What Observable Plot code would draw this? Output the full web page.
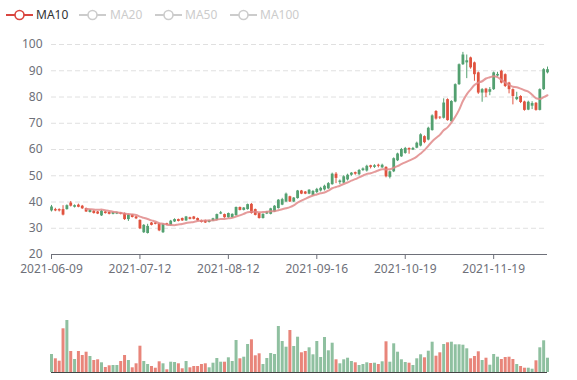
<!DOCTYPE html>
<html>
<head>
<meta charset="utf-8">
<script src="https://cdn.jsdelivr.net/npm/d3@7"></script>
<script src="https://cdn.jsdelivr.net/npm/@observablehq/plot@0.6"></script>
<style>
  html, body { margin: 0; padding: 0; background: #fff; }
  #root { position: relative; width: 577px; height: 380px; font-family: "Noto Sans", sans-serif; overflow: hidden; }
  #root > svg, #root > figure { position: absolute; left: 0; margin: 0; }
  .lg { position: absolute; top: 0; font-size: 12px; line-height: 16px; }
</style>
</head>
<body>
<div id="root"></div>
<script>
// ---- data ----
const dates = [
  "2021-06-09","2021-06-10","2021-06-11","2021-06-14","2021-06-15","2021-06-16","2021-06-17","2021-06-18","2021-06-21","2021-06-22",
  "2021-06-23","2021-06-24","2021-06-25","2021-06-28","2021-06-29","2021-06-30","2021-07-01","2021-07-02","2021-07-05","2021-07-06",
  "2021-07-07","2021-07-08","2021-07-09","2021-07-12","2021-07-13","2021-07-14","2021-07-15","2021-07-16","2021-07-19","2021-07-20",
  "2021-07-21","2021-07-22","2021-07-23","2021-07-26","2021-07-27","2021-07-28","2021-07-29","2021-07-30","2021-08-02","2021-08-03",
  "2021-08-04","2021-08-05","2021-08-06","2021-08-09","2021-08-10","2021-08-11","2021-08-12","2021-08-13","2021-08-16","2021-08-17",
  "2021-08-18","2021-08-19","2021-08-20","2021-08-23","2021-08-24","2021-08-25","2021-08-26","2021-08-27","2021-08-30","2021-08-31",
  "2021-09-01","2021-09-02","2021-09-03","2021-09-08","2021-09-09","2021-09-10","2021-09-13","2021-09-14","2021-09-15","2021-09-16",
  "2021-09-17","2021-09-20","2021-09-21","2021-09-22","2021-09-23","2021-09-24","2021-09-27","2021-09-28","2021-09-29","2021-09-30",
  "2021-10-01","2021-10-04","2021-10-05","2021-10-06","2021-10-07","2021-10-08","2021-10-11","2021-10-12","2021-10-13","2021-10-14",
  "2021-10-15","2021-10-18","2021-10-19","2021-10-20","2021-10-21","2021-10-22","2021-10-25","2021-10-26","2021-10-27","2021-10-28",
  "2021-10-29","2021-11-01","2021-11-02","2021-11-03","2021-11-04","2021-11-05","2021-11-08","2021-11-09","2021-11-10","2021-11-11",
  "2021-11-12","2021-11-15","2021-11-16","2021-11-17","2021-11-18","2021-11-19","2021-11-22","2021-11-23","2021-11-24","2021-11-25",
  "2021-11-26","2021-11-29","2021-11-30","2021-12-01","2021-12-02","2021-12-03","2021-12-06","2021-12-07","2021-12-08","2021-12-09"
];
const opens = [
  36.6,37.1,37.1,37.1,37.1,39.6,38.0,38.8,38.4,37.5, 36.0,36.5,36.2,34.7,36.2,36.0,35.3,35.4,35.8,35.6,
  33.3,35.1,34.3,33.0,28.3,28.0,32.0,32.0,31.7,28.3, 31.7,31.0,32.4,33.3,33.7,32.8,34.0,34.3,33.7,32.9,
  32.9,32.2,32.7,33.0,35.4,35.2,34.0,34.0,34.8,37.9, 36.8,37.1,39.1,37.1,35.6,33.7,35.4,35.3,36.2,37.5,
  38.8,40.0,42.0,40.0,41.3,44.2,43.8,43.0,42.5,43.6, 44.2,44.6,45.0,46.6,50.6,47.4,47.2,48.4,50.2,51.2,
  50.4,52.0,51.8,53.8,53.2,54.0,53.0,53.2,49.4,51.5, 55.7,57.2,58.5,60.4,59.8,60.5,61.3,64.9,63.6,67.2,
  74.5,72.3,71.9,79.0,70.6,78.1,84.7,92.3,93.0,94.9, 93.0,89.2,81.5,83.0,81.8,82.8,88.0,89.8,88.5,85.3,
  82.8,79.0,80.2,78.1,75.0,76.5,77.6,74.9,82.8,89.2
];
const closes = [
  38.1,36.6,36.6,35.0,38.6,38.4,38.6,38.0,37.4,36.2, 36.9,35.6,35.4,36.5,35.6,35.3,36.0,36.0,35.3,33.3,
  35.1,34.1,33.6,29.8,31.1,30.7,31.1,31.5,29.0,31.5, 31.2,32.7,33.3,32.6,32.8,34.3,33.4,33.4,32.8,32.2,
  32.0,32.9,33.6,35.2,35.9,34.0,35.6,35.3,37.9,36.8, 37.7,39.0,35.6,34.9,33.7,35.3,36.2,37.4,38.4,40.7,
  40.9,43.0,40.0,41.5,44.2,43.0,43.0,44.5,44.0,44.8, 45.2,46.0,47.0,50.6,49.0,48.0,49.6,50.2,51.0,50.6,
  52.0,52.6,53.6,53.2,53.8,53.6,54.0,49.6,51.5,56.5, 58.3,60.0,60.4,59.8,60.4,62.4,65.6,62.6,68.1,72.8,
  71.6,72.0,77.7,71.0,78.3,84.7,92.3,96.0,93.8,91.1, 88.5,81.5,82.8,81.5,82.8,89.2,88.6,85.3,84.0,82.8,
  80.2,79.8,77.9,74.9,78.0,77.5,74.9,82.8,90.4,90.4
];
const highs = [
  38.7,37.6,37.4,38.6,38.9,40.2,38.9,39.2,38.7,37.7, 37.1,36.7,36.4,36.8,36.4,36.2,36.2,36.2,36.0,35.8,
  35.3,35.3,34.5,33.2,31.4,31.5,32.2,32.2,31.9,31.7, 31.9,33.0,33.6,33.5,33.9,34.5,34.2,34.5,33.9,33.1,
  33.1,33.1,33.8,35.4,36.4,35.4,35.8,35.5,38.1,38.1, 37.9,39.2,39.4,37.3,35.8,35.5,36.4,37.6,38.6,40.9,
  41.4,43.4,42.2,41.7,44.4,44.4,44.0,44.7,44.4,45.2, 45.6,46.4,47.4,51.0,51.2,48.4,50.0,50.6,51.2,51.4,
  52.4,53.0,54.0,54.0,54.2,54.4,54.4,53.4,51.8,56.8, 58.6,60.4,60.8,60.6,60.8,62.8,66.0,65.2,68.5,73.2,
  74.8,72.5,79.3,79.3,78.6,85.0,92.6,97.0,96.0,95.2, 93.3,89.5,83.2,83.3,83.6,89.5,89.4,90.2,88.8,85.6,
  83.1,81.8,80.5,78.4,78.4,78.2,77.9,83.1,90.8,91.4
];
const lows = [
  36.2,36.3,36.2,34.7,36.9,38.1,37.7,37.8,37.2,36.0, 35.8,35.4,35.2,34.5,35.4,35.1,35.1,35.2,35.1,33.0,
  32.6,33.9,33.3,29.5,28.0,27.8,30.9,31.3,28.7,28.0, 31.0,30.8,32.2,32.4,32.6,32.6,33.2,33.2,32.6,32.0,
  31.8,32.0,32.5,32.8,35.2,33.8,33.8,33.8,34.6,36.6, 36.6,36.9,35.4,34.7,33.5,33.5,35.2,35.1,36.0,37.3,
  38.6,39.8,39.8,39.8,41.1,42.8,42.8,42.8,42.2,43.2, 43.8,44.2,44.8,46.4,47.0,46.6,47.0,48.0,49.8,50.2,
  50.0,51.6,51.4,52.6,52.8,53.0,52.8,49.2,48.8,51.2, 55.4,57.0,58.2,58.2,59.6,60.3,61.0,62.2,63.3,67.0,
  71.2,71.4,71.6,70.8,70.4,77.8,84.4,92.0,87.0,90.6, 86.0,81.0,78.0,79.8,80.5,82.5,87.6,85.0,83.6,81.2,
  77.0,78.6,77.5,74.6,74.8,75.2,74.6,74.7,82.5,88.8
];
const volumes = [
  18,13.7,11.3,43.7,52,21,13,21,17,20.3, 16,12,12.7,9.7,5,6.7,7,7,11,17,
  12,4.7,8.7,26.3,11,8,6,4.3,10.7,8.7, 2.7,10.3,10,8.7,3.7,11,4.7,6,6,8,
  8.7,4.7,9.3,14,10.3,10.3,14.7,11,32,13.7, 15.3,28,32.7,16.7,18.7,8,14,19,18,46,
  31,25.3,42,26,35.3,19.7,21,24.7,17.7,31, 15,35,21.7,29.3,12.7,8.7,12.7,14.3,11,9.7,
  7,8,9.7,9,9.3,8,10.7,30.7,10.3,28.7, 20.3,12.7,10,9.3,7,13.7,17.7,14.7,21.3,30.3,
  16.3,19.7,28,29.7,30.3,27.7,27.7,27.3,23.7,13.7, 16,20.7,12,14.3,7.3,18,15.3,13,15,15.3,
  13,8,6,4.3,4.3,3.3,11.7,24.7,31.7,14.3
];
const xTickLabels = ["2021-06-09","2021-07-12","2021-08-12","2021-09-16","2021-10-19","2021-11-19"];
const yTicks = [20,30,40,50,60,70,80,90,100];
const legendNames = ["MA10","MA20","MA50","MA100"];

// ---- table ----
const ma10 = closes.map((c, i) => i < 9 ? NaN : d3.mean(closes.slice(i - 9, i + 1)));
const rows = dates.map((d, i) => ({
  date: d, open: opens[i], close: closes[i], high: highs[i], low: lows[i],
  volume: volumes[i], ma10: ma10[i], up: closes[i] >= opens[i]
}));

const UP = "#53a070", DOWN = "#e0533f";
const UPV = "#8fc0a0", DOWNV = "#e8857a";
const font = {fontFamily: "'Noto Sans', sans-serif", fontSize: "12px", background: "transparent", overflow: "visible"};
const xScale = {type: "point", domain: dates, padding: 0, align: 0.5};

const price = Plot.plot({
  width: 577, height: 280,
  marginLeft: 51, marginRight: 30, marginTop: 44, marginBottom: 26,
  style: font,
  x: {...xScale, axis: null, label: null},
  y: {domain: [20, 100], axis: null, label: null},
  marks: [
    Plot.gridY(yTicks.filter(t => t > 20), {stroke: "#e0e0e0", strokeOpacity: 1, strokeDasharray: "5,3"}),
    Plot.axisY(yTicks, {tickSize: 0, tickPadding: 9, color: "#6e7079", fontSize: 12, label: null}),
    Plot.ruleX(rows, {x: "date", y1: "low", y2: "high", stroke: d => d.up ? UP : DOWN, strokeWidth: 1}),
    Plot.ruleX(rows, {x: "date", y1: "open", y2: "close", stroke: d => d.up ? UP : DOWN, strokeWidth: 2.8}),
    Plot.lineY(rows, {x: "date", y: "ma10", stroke: "#e08a8a", strokeOpacity: 0.85, strokeWidth: 2, curve: "monotone-x"}),
    Plot.ruleY([20], {stroke: "#6e7079"}),
    Plot.axisX(xTickLabels, {tickSize: 5, tickPadding: 5, color: "#6e7079", fontSize: 12, label: null})
  ]
});
price.style.top = "0px";

const vol = Plot.plot({
  width: 577, height: 90,
  marginLeft: 51, marginRight: 30, marginTop: 20, marginBottom: 8,
  style: font,
  x: {...xScale, axis: null, label: null},
  y: {domain: [0, 62], axis: null, label: null},
  marks: [
    Plot.ruleX(rows, {x: "date", y1: 0, y2: "volume", stroke: d => d.up ? UPV : DOWNV, strokeWidth: 3}),
    Plot.ruleY([0], {stroke: "#444", strokeWidth: 1.2})
  ]
});
vol.style.top = "290px";

const root = document.getElementById("root");
root.appendChild(price);
root.appendChild(vol);

// legend
const legendPos = [[6, 36], [79, 110], [155, 185], [230, 260]];
legendNames.forEach((name, i) => {
  const active = i === 0;
  const col = active ? "#d9453f" : "#cccccc";
  const [ix, tx] = legendPos[i];
  const icon = document.createElementNS("http://www.w3.org/2000/svg", "svg");
  icon.setAttribute("width", 28); icon.setAttribute("height", 14);
  icon.style.position = "absolute"; icon.style.left = ix + "px"; icon.style.top = "8px";
  icon.innerHTML = `<line x1="0" y1="7" x2="27" y2="7" stroke="${col}" stroke-width="2"/>` +
    `<circle cx="13.5" cy="7" r="4.5" fill="#fff" stroke="${col}" stroke-width="1.6"/>`;
  root.appendChild(icon);
  const t = document.createElement("div");
  t.className = "lg";
  t.textContent = name;
  t.style.left = tx + "px"; t.style.top = "7px";
  t.style.color = active ? "#333" : "#ccc";
  root.appendChild(t);
});
</script>
</body>
</html>
